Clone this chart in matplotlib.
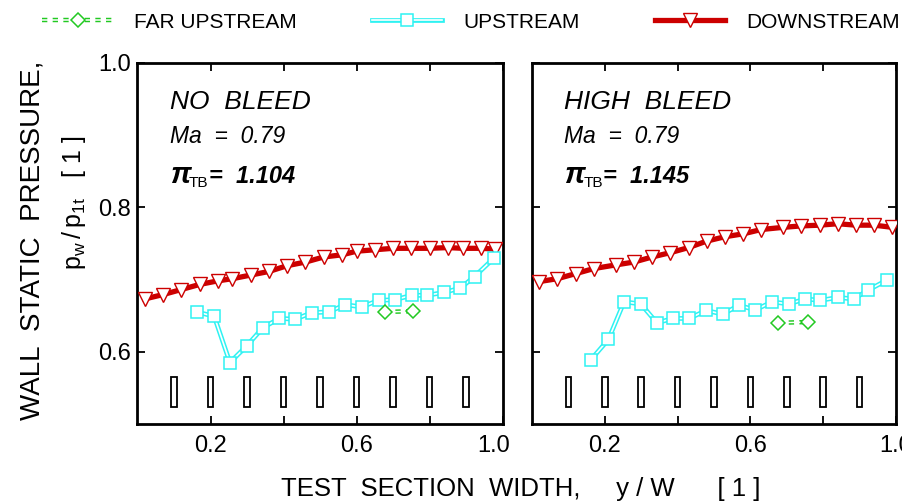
import numpy as np
import matplotlib
matplotlib.use("Agg")
import matplotlib.pyplot as plt
from matplotlib.legend_handler import HandlerTuple
from matplotlib.transforms import ScaledTranslation

plt.rcParams['font.family'] = 'Liberation Sans'

# --- measured wall pressures, p_w / p_1t -------------------------------------
# upstream taps (same positions for both cases)
x_up = [0.162, 0.210, 0.253, 0.299, 0.343, 0.388, 0.432, 0.478, 0.524, 0.568,
        0.614, 0.660, 0.705, 0.751, 0.792, 0.840, 0.884, 0.923, 0.975]
y_up_nb = [0.655, 0.649, 0.585, 0.608, 0.633, 0.646, 0.645, 0.654, 0.655, 0.665,
           0.662, 0.671, 0.672, 0.678, 0.678, 0.682, 0.688, 0.704, 0.729]
y_up_hb = [0.589, 0.617, 0.669, 0.666, 0.640, 0.646, 0.646, 0.657, 0.652, 0.664,
           0.658, 0.669, 0.666, 0.673, 0.671, 0.675, 0.673, 0.685, 0.699]

# far upstream taps
x_far_nb = [0.677, 0.754]
y_far_nb = [0.655, 0.656]
x_far_hb = [0.676, 0.757]
y_far_hb = [0.640, 0.641]

# downstream taps
x_dn_nb = [0.02, 0.07, 0.12, 0.17, 0.22, 0.26, 0.31, 0.36, 0.41, 0.46, 0.51,
           0.56, 0.60, 0.65, 0.70, 0.75, 0.80, 0.85, 0.89, 0.94, 0.98]
y_dn_nb = [0.673, 0.679, 0.686, 0.693, 0.698, 0.701, 0.706, 0.711, 0.719, 0.724,
           0.731, 0.734, 0.739, 0.741, 0.743, 0.743, 0.743, 0.744, 0.743, 0.743,
           0.742]
x_dn_hb = [0.02, 0.07, 0.12, 0.17, 0.23, 0.28, 0.33, 0.38, 0.43, 0.48, 0.53,
           0.58, 0.63, 0.69, 0.74, 0.79, 0.84, 0.89, 0.94, 0.99]
y_dn_hb = [0.697, 0.701, 0.708, 0.715, 0.720, 0.724, 0.731, 0.737, 0.744, 0.753,
           0.759, 0.763, 0.769, 0.772, 0.774, 0.775, 0.777, 0.775, 0.775, 0.772]

# bleed slot positions along the width
slot_x = [0.1, 0.2, 0.3, 0.4, 0.5, 0.6, 0.7, 0.8, 0.9]
slot_bottom = 0.523
slot_height = 0.042

cases = [
    dict(title="NO  BLEED", ma="0.79", pi="1.104",
         far=(x_far_nb, y_far_nb), up=y_up_nb, dn=(x_dn_nb, y_dn_nb)),
    dict(title="HIGH  BLEED", ma="0.79", pi="1.145",
         far=(x_far_hb, y_far_hb), up=y_up_hb, dn=(x_dn_hb, y_dn_hb)),
]

GREEN = "#22c922"
CYAN = "#2ef2f2"
RED = "#cc0000"


def double_line(ax, x, y, color, marker, ms, lw_out, lw_in, ls="-", z=3):
    outer, = ax.plot(x, y, color=color, lw=lw_out, ls=ls, zorder=z,
                     solid_joinstyle="miter")
    inner, = ax.plot(x, y, color="white", lw=lw_in, zorder=z + 0.1)
    marks, = ax.plot(x, y, ls="none", marker=marker, ms=ms, mfc="white",
                     mec=color, mew=1.1, zorder=z + 0.2)
    return outer, inner, marks


W, H = 903, 504
fig = plt.figure(figsize=(W / 100, H / 100), dpi=100)
boxes = [(137.5, 502.7), (532.0, 896.0)]
top_px, bot_px = 62.5, 424.0

handles = None
for k, (case, (l, r)) in enumerate(zip(cases, boxes)):
    ax = fig.add_axes([l / W, 1 - bot_px / H, (r - l) / W, (bot_px - top_px) / H])

    # bleed slots
    ax.bar(slot_x, slot_height, bottom=slot_bottom, width=0.015, fill=False,
           edgecolor="black", lw=1.3, zorder=2)

    dx, dy = case["dn"]
    d_line, = ax.plot(dx, dy, color=RED, lw=3.8, zorder=3)
    d_mark, = ax.plot(dx, dy, ls="none", marker="v", ms=9.5, mfc="white",
                      mec=RED, mew=1.0, zorder=3.2)

    up = double_line(ax, x_up, case["up"], CYAN, "s", 8, 3.4, 1.2, z=4)
    fx, fy = case["far"]
    far = double_line(ax, fx, fy, GREEN, "D", 7, 3.2, 1.1,
                      ls=(0, (1.2, 1.2)), z=5)
    if handles is None:
        handles = [far, up, (d_line, d_mark)]

    ax.set_xlim(0, 1.0)
    ax.set_ylim(0.5, 1.0)
    ax.set_xticks([0.2, 0.4, 0.6, 0.8, 1.0])
    ax.set_yticks([0.6, 0.8, 1.0])
    ax.tick_params(direction="in", length=6, width=1.3, top=True, right=True,
                   labelsize=17)
    ax.tick_params(axis="x", pad=8)
    ax.tick_params(axis="y", pad=5)
    ax.set_xticklabels(["0.2", "", "0.6", "", "1.0"])
    if k == 0:
        ax.set_yticklabels(["0.6", "0.8", "1.0"])
        lab = ax.get_xticklabels()[-1]
        lab.set_transform(lab.get_transform()
                          + ScaledTranslation(-0.09, 0, fig.dpi_scale_trans))
    else:
        ax.set_yticklabels([])
    for s in ax.spines.values():
        s.set_linewidth(2.0)

    # case annotations
    ax.text(0.089, 0.936, case["title"], fontsize=19, style="italic",
            va="baseline")
    ax.text(0.089, 0.889, "Ma  =  " + case["ma"], fontsize=16.5,
            style="italic", va="baseline")
    ax.text(0.089, 0.833, "\u03c0", fontsize=21, style="italic",
            weight="bold", va="baseline")
    ax.text(0.141, 0.828, "TB", fontsize=11, va="baseline")
    ax.text(0.196, 0.833, "=  " + case["pi"], fontsize=17, style="italic",
            weight="bold", va="baseline")

fig.text(33 / W, 1 - 240 / H, "WALL  STATIC  PRESSURE,", rotation=90,
         ha="center", va="center", fontsize=20)
fig.text(74 / W, 1 - 203 / H, r"$\mathregular{p_w\,/\,p_{1t}}$   [ 1 ]",
         rotation=90, ha="center", va="center", fontsize=18)
fig.text(521 / W, 1 - 489 / H,
         "TEST  SECTION  WIDTH,     y / W      [ 1 ]",
         ha="center", va="center", fontsize=18.5)

fig.legend(handles, ["FAR UPSTREAM", "UPSTREAM", "DOWNSTREAM"],
           handler_map={tuple: HandlerTuple(ndivide=1)}, ncol=3,
           loc="center", bbox_to_anchor=(471 / W, 1 - 22 / H),
           frameon=False, numpoints=1, handlelength=3.4, handletextpad=1.0,
           columnspacing=3.6, borderpad=0.2, prop=dict(size=15))

fig.savefig("out.png", dpi=100)
